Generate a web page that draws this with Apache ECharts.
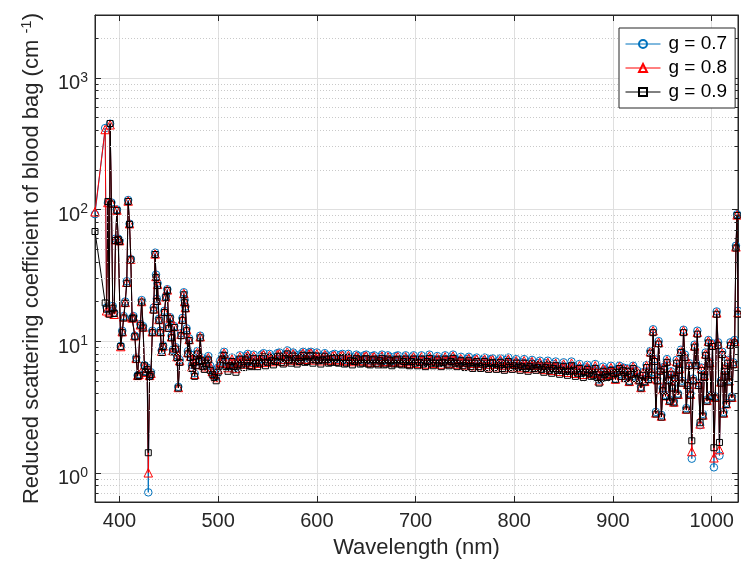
<!DOCTYPE html>
<html><head><meta charset="utf-8">
<script src="https://cdn.jsdelivr.net/npm/echarts@6/dist/echarts.min.js"></script>
<style>html,body{margin:0;padding:0;background:#fff}#c{width:741px;height:566px}</style>
</head><body><div id="c"></div>
<script>
const wavelength = [
 375.2,385.5,386.9,388.3,389.7,390.5,391.9,393.2,394.6,396.0,
 397.4,398.7,400.1,401.3,402.8,404.3,405.8,407.4,408.8,410.2,
 411.5,412.8,414.2,415.6,417.0,418.4,419.8,421.2,422.5,423.9,
 425.2,426.6,428.0,429.2,430.5,431.9,433.3,434.7,436.1,437.0,
 437.8,438.6,440.0,441.4,442.8,444.2,445.6,447.0,448.5,449.9,
 451.3,452.7,454.1,455.5,456.9,458.3,459.6,461.0,462.4,463.8,
 465.2,466.0,466.8,468.0,469.3,470.6,472.0,473.4,474.8,476.2,
 477.6,479.0,480.4,481.8,483.2,484.6,
 486,488,490,492,494,496,498,500,502,504,
 506,508,510,512,514,516,518,520,522,524,
 526,528,530,532,534,536,538,540,542,544,
 546,548,550,552,554,556,558,560,562,564,
 566,568,570,572,574,576,578,580,582,584,
 586,588,590,592,594,596,598,600,602,604,
 606,608,610,612,614,616,618,620,622,624,
 626,628,630,632,634,636,638,640,642,644,
 646,648,650,652,654,656,658,660,662,664,
 666,668,670,672,674,676,678,680,682,684,
 686,688,690,692,694,696,698,700,702,704,
 706,708,710,712,714,716,718,720,722,724,
 726,728,730,732,734,736,738,740,742,744,
 746,748,750,752,754,756,758,760,762,764,
 766,768,770,772,774,776,778,780,782,784,
 786,788,790,792,794,796,798,800,802,804,
 806,808,810,812,814,816,818,820,822,824,
 826,828,830,832,834,836,838,840,842,844,
 846,848,850,852,854,856,858,860,862,864,
 866,868,870,872,874,876,878,880,882,884,
 886,888,890,892,894,896,898,
 900.5,902.5,904.5,906.5,908.5,910.5,912.5,914.5,916.5,918.5,
 920.5,922.5,924.5,926.5,928.4,930.3,932.2,934.1,936.0,937.9,
 939.3,940.7,942.1,943.5,944.9,946.3,947.7,949.1,950.5,951.9,
 953.3,954.7,956.1,957.5,958.9,960.3,961.7,963.1,964.5,965.9,
 967.3,968.7,970.1,971.5,972.9,974.3,975.7,977.1,978.5,979.9,
 981.3,982.7,984.1,985.5,986.9,988.3,989.7,991.1,992.5,993.9,
 995.3,996.7,998.1,999.5,1000.9,1002.3,1003.7,1005.1,1006.5,1007.9,
 1009.3,1010.7,1012.1,1013.5,1014.9,1016.3,1017.7,1019.1,1020.5,1021.9,
 1023.3,1024.6,1025.8,1026.7
];
const g07 = [
 92,415,18,112,17,448,113,18.5,16.5,60,
 100,60,58,9.2,12,15.5,20,28.5,118,78,
 42,15,15.5,11,7.5,5.5,5.6,13.5,20.5,13,
 6.6,5.9,6.3,0.71,5.5,5.8,12,18,47,32,
 21,27.5,14.8,12,8.5,9.3,17,22,24.8,13,
 15.2,11,8.6,13,9,7.8,4.5,7.2,11.5,15,
 23.5,20.5,18.3,12.5,8.4,10.5,7.9,6.6,7.3,5.7,
 6.9,8.4,7.4,11.0,7.5,6.8,
 6.6,7.3,7.7,6.5,6.1,5.7,5.4,6.3,7.1,7.8,
 8.3,7.0,6.4,7.0,7.5,6.9,6.3,7.1,7.8,7.2,
 6.8,7.7,8.0,7.0,6.9,7.9,7.4,6.9,7.3,7.9,
 8.1,7.0,7.4,8.0,7.6,7.1,7.5,8.1,8.2,7.4,
 7.2,7.9,8.5,7.6,7.3,8.2,7.9,7.2,7.5,8.0,
 8.3,7.4,7.5,8.2,8.3,7.3,7.7,8.2,7.6,7.2,
 7.7,8.1,7.8,7.3,7.4,7.9,8.0,7.4,7.3,7.9,
 8.0,7.2,7.3,8.0,7.6,7.1,7.5,7.9,7.7,7.2,
 7.3,7.8,7.9,7.2,7.1,7.7,7.8,7.3,7.1,7.6,
 7.9,7.1,7.2,7.8,7.6,7.0,7.2,7.7,7.8,7.2,
 7.1,7.5,7.8,7.1,7.0,7.5,7.8,7.3,7.0,7.4,
 7.8,7.2,6.9,7.5,7.9,7.3,7.0,7.3,7.7,7.3,
 6.9,7.4,7.8,7.2,7.0,7.5,7.9,7.3,6.9,7.2,
 7.6,7.0,6.8,7.3,7.6,6.9,6.7,7.3,7.5,6.9,
 6.7,7.2,7.5,6.8,6.6,7.3,7.4,6.8,6.6,7.1,
 7.4,6.7,6.5,7.2,7.5,6.8,6.6,7.0,7.3,6.8,
 6.5,6.9,7.3,6.7,6.4,6.9,7.2,6.7,6.5,6.8,
 7.1,6.6,6.3,6.8,7.1,6.5,6.2,6.7,7.0,6.5,
 6.1,6.5,6.9,6.4,6.0,6.4,7.0,6.5,5.9,6.2,
 6.7,6.2,5.8,6.3,6.6,6.2,5.9,6.0,6.7,5.8,
 5.1,5.7,6.4,6.1,5.8,5.9,6.5,
 6.0,5.2,6.1,6.5,5.6,6.3,5.4,6.2,5.0,5.9,
 6.5,5.4,6.0,5.2,4.5,5.8,5.0,6.6,5.3,8.4,
 5.8,12.3,7.3,2.9,5.2,10.0,6.2,2.75,4.4,6.4,
 3.9,7.3,5.2,3.6,5.9,4.6,3.5,5.5,7.2,4.0,
 6.3,8.6,5.0,12.2,7.9,3.1,4.8,6.8,4.0,1.28,
 5.2,9.4,6.8,12.0,4.8,2.3,6.3,2.8,5.6,8.2,
 3.6,10.2,7.0,3.9,9.6,1.1,3.8,16.8,9.8,1.35,
 5.0,8.3,2.9,6.2,3.4,7.2,5.1,9.8,3.8,6.9,
 10.2,53,92,17
];
const g08 = [
 96,405,17,113,16.5,440,112,18,16,59,
 99,59,58,9.1,11.8,15.3,19.7,28,116,78,
 42,15,15.3,11,7.4,5.5,5.6,13.3,20,12.8,
 6.5,5.8,6.2,1.0,5.5,5.7,11.8,17.6,46,31,
 20.5,27,14.6,11.8,8.4,9.2,16.8,21.7,24.5,12.8,
 15,10.8,8.5,12.9,8.9,7.6,4.45,7.1,11.3,14.7,
 23,20,18,12.2,8.2,10.3,7.7,6.4,7.1,5.6,
 6.7,8.2,7.2,10.8,7.3,6.6,
 6.4,7.1,7.5,6.4,5.9,5.6,5.3,6.1,6.9,7.6,
 8.1,6.8,6.3,6.8,7.3,6.8,6.2,6.9,7.6,7.0,
 6.7,7.5,7.8,6.9,6.7,7.7,7.2,6.8,7.1,7.7,
 7.9,6.9,7.2,7.8,7.4,7.0,7.3,7.9,8.0,7.3,
 7.0,7.7,8.3,7.4,7.2,8.0,7.7,7.1,7.3,7.8,
 8.1,7.3,7.3,8.0,8.1,7.2,7.5,8.0,7.4,7.1,
 7.5,7.9,7.6,7.2,7.2,7.7,7.8,7.3,7.1,7.7,
 7.8,7.1,7.1,7.8,7.4,7.0,7.3,7.7,7.5,7.1,
 7.1,7.6,7.7,7.1,6.9,7.5,7.6,7.2,6.9,7.4,
 7.7,7.0,7.0,7.6,7.4,6.9,7.0,7.5,7.6,7.1,
 6.9,7.3,7.6,7.0,6.8,7.3,7.6,7.2,6.8,7.2,
 7.6,7.1,6.7,7.3,7.7,7.2,6.8,7.1,7.5,7.2,
 6.7,7.2,7.6,7.1,6.8,7.3,7.7,7.2,6.7,7.0,
 7.4,6.9,6.6,7.1,7.4,6.8,6.5,7.1,7.3,6.8,
 6.5,7.0,7.3,6.7,6.4,7.1,7.2,6.7,6.4,6.9,
 7.2,6.6,6.3,7.0,7.3,6.7,6.4,6.8,7.1,6.7,
 6.3,6.7,7.1,6.6,6.2,6.7,7.0,6.6,6.3,6.6,
 6.9,6.5,6.1,6.6,6.9,6.4,6.0,6.5,6.8,6.4,
 5.9,6.3,6.7,6.3,5.8,6.2,6.8,6.4,5.7,6.0,
 6.5,6.1,5.6,6.1,6.4,6.1,5.7,5.8,6.5,5.7,
 5.0,5.5,6.2,6.0,5.6,5.7,6.3,
 5.9,5.15,6.0,6.4,5.5,6.2,5.3,6.1,4.95,5.8,
 6.4,5.3,5.9,5.1,4.45,5.7,4.95,6.5,5.2,8.3,
 5.7,12.0,7.2,2.85,5.1,9.8,6.1,2.7,4.3,6.3,
 3.85,7.1,5.1,3.55,5.8,4.5,3.45,5.4,7.0,3.95,
 6.2,8.4,4.9,12.0,7.7,3.05,4.7,6.7,3.95,1.45,
 5.1,9.2,6.7,11.7,4.7,2.35,6.2,2.75,5.5,8.0,
 3.55,10.0,6.9,3.85,9.4,1.3,3.75,16.4,9.6,1.5,
 4.9,8.1,2.85,6.1,3.35,7.0,5.0,9.6,3.75,6.8,
 10.0,52,91,16.5
];
const g09 = [
 68,19.5,17.5,115,16,450,110,17.8,16.2,58,
 98,59,57,9.1,11.6,15,19.4,27.5,115,77,
 41.5,14.8,15,10.8,7.3,5.4,5.5,13.2,19.8,12.6,
 6.5,5.8,6.1,1.42,5.4,5.6,11.6,17.2,45.5,30.5,
 20,26.5,14.4,11.6,8.2,9.1,16.5,21.4,24.2,12.5,
 14.8,10.6,8.3,12.7,8.7,7.5,4.4,6.9,11,14.4,
 22.5,19.6,17.6,12,8,10.1,7.5,6.2,6.9,5.4,
 6.5,8,7,10.6,7.1,6.4,
 6.1,6.8,7.2,6.0,5.6,5.3,5.0,5.8,6.6,7.3,
 7.8,6.4,5.9,6.5,7.0,6.4,5.8,6.6,7.3,6.6,
 6.3,7.2,7.5,6.5,6.4,7.4,6.8,6.4,6.8,7.4,
 7.6,6.5,6.9,7.5,7.1,6.6,7.0,7.6,7.7,6.9,
 6.7,7.4,8.0,7.1,6.8,7.7,7.4,6.7,7.0,7.5,
 7.8,6.9,7.0,7.7,7.8,6.8,7.2,7.7,7.1,6.7,
 7.2,7.6,7.3,6.8,6.9,7.4,7.5,6.9,6.8,7.4,
 7.5,6.7,6.8,7.5,7.1,6.6,7.0,7.4,7.2,6.7,
 6.8,7.3,7.4,6.7,6.6,7.2,7.3,6.8,6.6,7.1,
 7.4,6.6,6.7,7.3,7.1,6.5,6.7,7.2,7.3,6.7,
 6.6,7.0,7.3,6.6,6.5,7.0,7.3,6.8,6.5,6.9,
 7.3,6.7,6.4,7.0,7.4,6.8,6.5,6.8,7.2,6.8,
 6.4,6.9,7.3,6.7,6.5,7.0,7.4,6.8,6.4,6.7,
 7.1,6.5,6.3,6.8,7.1,6.4,6.2,6.8,7.0,6.4,
 6.2,6.7,7.0,6.3,6.1,6.8,6.9,6.3,6.1,6.6,
 6.9,6.2,6.0,6.7,7.0,6.3,6.1,6.5,6.8,6.3,
 6.0,6.4,6.8,6.2,5.9,6.4,6.7,6.2,6.0,6.3,
 6.6,6.1,5.8,6.3,6.6,6.0,5.7,6.2,6.5,6.0,
 5.6,6.0,6.4,5.9,5.5,5.9,6.5,6.0,5.4,5.7,
 6.2,5.7,5.3,5.8,6.1,5.7,5.4,5.5,6.2,5.3,
 4.8,5.2,5.9,5.6,5.3,5.4,6.0,
 5.7,5.1,5.8,6.2,5.4,6.0,5.2,5.9,4.9,5.6,
 6.2,5.2,5.7,5.0,4.4,5.5,4.9,6.3,5.1,8.1,
 5.5,11.6,7.0,2.8,5.0,9.5,5.9,2.65,4.2,6.1,
 3.8,6.9,5.0,3.5,5.6,4.4,3.4,5.2,6.8,3.9,
 6.0,8.2,4.8,11.6,7.5,3.0,4.6,6.5,3.9,1.75,
 5.0,9.0,6.5,11.3,4.6,2.4,6.0,2.7,5.3,7.8,
 3.5,9.7,6.7,3.8,9.1,1.55,3.7,16.0,9.3,1.7,
 4.8,7.9,2.8,5.9,3.3,6.8,4.9,9.3,3.7,6.6,
 9.7,51,90,16
];
const seriesNames = ['g = 0.7', 'g = 0.8', 'g = 0.9'];
const yMinorValues = [0.7,0.8,0.9,2,3,4,5,6,7,8,9,20,30,40,50,60,70,80,90,200,300,400,500,600,700,800,900,2000];
const xRange = [375.2, 1026.7];
const yRange = [0.6, 3000];

const FONT = '"Liberation Sans", Arial, Helvetica, sans-serif';
const AX = '#262626';
function isPow10(v) { const l = Math.log10(v); return Math.abs(l - Math.round(l)) < 1e-6; }
function pairs(arr) { return wavelength.map((w, i) => [w, arr[i]]); }

const chart = echarts.init(document.getElementById('c'), null, { renderer: 'canvas' });
const tickStyle = { inside: true, length: 6, lineStyle: { color: AX, width: 1 } };
const option = {
  animation: false,
  backgroundColor: '#fff',
  textStyle: { fontFamily: FONT },
  grid: { left: 95, right: 1, top: 15, bottom: 64, show: true, borderColor: AX, borderWidth: 1, backgroundColor: 'transparent' },
  legend: {
    orient: 'vertical', left: 619, top: 28, padding: [6, 8, 6, 6], itemGap: 4, z: 20,
    itemWidth: 35, itemHeight: 10, backgroundColor: '#fff', borderColor: AX, borderWidth: 1,
    lineStyle: { width: 1 },
    textStyle: { fontSize: 19, color: '#000', lineHeight: 20, fontFamily: FONT, padding: [0, 0, 0, 3] },
    data: seriesNames, selectedMode: false
  },
  xAxis: [{
    type: 'value', min: xRange[0], max: xRange[1], position: 'bottom',
    name: 'Wavelength (nm)', nameLocation: 'middle', nameGap: 35,
    nameTextStyle: { fontSize: 22, color: AX, fontFamily: FONT },
    axisLine: { show: true, lineStyle: { color: AX, width: 1 } },
    axisTick: tickStyle,
    axisLabel: { fontSize: 20, color: AX, margin: 9, fontFamily: FONT, formatter: v => (Math.abs(v % 100) < 1e-9 ? String(v) : '') },
    splitLine: { show: true, lineStyle: { color: '#dfdfdf', width: 1 } }
  }, {
    type: 'value', min: xRange[0], max: xRange[1], position: 'top',
    axisLine: { show: true, lineStyle: { color: AX, width: 1 } },
    axisTick: tickStyle, axisLabel: { show: false }, splitLine: { show: false }
  }],
  yAxis: [{
    type: 'log', logBase: 10, min: yRange[0], max: yRange[1], position: 'left',
    name: '{n|Reduced scattering coefficient of blood bag (cm }{s|-1}{n|)}',
    nameLocation: 'middle', nameRotate: 90, nameGap: 52,
    nameTextStyle: { fontSize: 22, color: AX, fontFamily: FONT,
      rich: { n: { fontSize: 22, color: AX, fontFamily: FONT, lineHeight: 24, padding: [8, 0, 0, 0], verticalAlign: 'bottom' },
              s: { fontSize: 15, color: AX, fontFamily: FONT, lineHeight: 16, verticalAlign: 'top' } } },
    axisLine: { show: true, lineStyle: { color: AX, width: 1 } },
    axisTick: tickStyle,
    axisLabel: { margin: 7, fontFamily: FONT, padding: [12, 0, 0, 0],
      formatter: v => (isPow10(v) ? '{b|10}{s|' + Math.round(Math.log10(v)) + '}' : ''),
      rich: { b: { fontSize: 20, color: AX, fontFamily: FONT },
              s: { fontSize: 14, color: AX, fontFamily: FONT, padding: [0, 0, 12, 0] } } },
    splitLine: { show: true, lineStyle: { color: '#dfdfdf', width: 1 } }
  }, {
    type: 'log', logBase: 10, min: yRange[0], max: yRange[1], position: 'right',
    axisLine: { show: true, lineStyle: { color: AX, width: 1 } },
    axisTick: tickStyle, axisLabel: { show: false }, splitLine: { show: false }
  }],
  series: [
    { type: 'line', data: [], silent: true, z: 1,
      markLine: { silent: true, animation: false, symbol: ['none', 'none'], label: { show: false },
        lineStyle: { color: '#c9c9c9', type: [1, 2], width: 1 },
        emphasis: { disabled: true },
        data: yMinorValues.map(v => ({ yAxis: v })) } },
    { type: 'line', data: [], silent: true, z: 5,
      markLine: { silent: true, animation: false, symbol: ['none', 'none'], label: { show: false },
        lineStyle: { color: AX, type: 'solid', width: 1 },
        emphasis: { disabled: true },
        data: yMinorValues.flatMap(v => [
          [{ coord: [xRange[0], v] }, { coord: [xRange[0] + 3.5, v] }],
          [{ coord: [xRange[1] - 3.5, v] }, { coord: [xRange[1], v] }]
        ]) } },
    { name: seriesNames[0], type: 'line', data: pairs(g07), symbol: 'circle', symbolSize: 7.5, showAllSymbol: true, z: 2,
      itemStyle: { color: 'rgba(0,0,0,0)', borderColor: '#0072BD', borderWidth: 1 },
      lineStyle: { color: '#0072BD', width: 1 }, emphasis: { disabled: true } },
    { name: seriesNames[1], type: 'line', data: pairs(g08), symbol: 'triangle', symbolSize: 8.5, showAllSymbol: true, z: 3,
      itemStyle: { color: 'rgba(0,0,0,0)', borderColor: '#FF0000', borderWidth: 1 },
      lineStyle: { color: '#FF0000', width: 1 }, emphasis: { disabled: true } },
    { name: seriesNames[2], type: 'line', data: pairs(g09), symbol: 'rect', symbolSize: 6, showAllSymbol: true, z: 4,
      itemStyle: { color: 'rgba(0,0,0,0)', borderColor: '#000000', borderWidth: 1 },
      lineStyle: { color: '#000000', width: 1 }, emphasis: { disabled: true } }
  ]
};
chart.setOption(option);
</script>
</body></html>
